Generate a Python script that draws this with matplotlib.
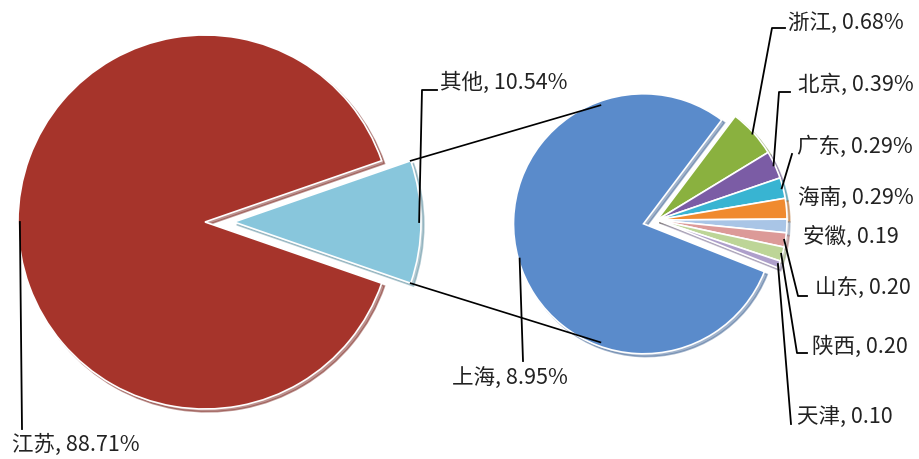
import numpy as np
import matplotlib.pyplot as plt

plt.rcParams['font.family'] = ['Noto Sans CJK SC', 'DejaVu Sans']

W, H = 919, 460

# 主饼
main_labels = ['其他', '江苏']
main_values = [10.54, 88.71]
main_texts = ['10.54%', '88.71%']
main_colors = ['#88C6DC', '#A6342B']

# 子饼（其他 的明细）
sub_labels = ['浙江', '北京', '广东', '海南', '安徽', '山东', '陕西', '天津', '上海']
sub_values = [0.68, 0.39, 0.29, 0.29, 0.19, 0.20, 0.20, 0.10, 8.95]
sub_texts = ['0.68%', '0.39%', '0.29%', '0.29%', '0.19', '0.20', '0.20', '0.10', '8.95%']
sub_colors = ['#8AB13F', '#7B5CA5', '#38B4D2', '#F08A2E', '#A9C5E6',
              '#DC9A98', '#BDD597', '#AE9FCB', '#5A8BCB']


def py(y):
    return H - y


fig = plt.figure(figsize=(W / 100, H / 100), dpi=100)
ax = fig.add_axes([0, 0, 1, 1])

wp = dict(edgecolor='white', linewidth=1.2)
shd = {'ox': 2, 'oy': -2, 'shade': 0.25}
frac0 = main_values[0] / sum(main_values)
# explode 在数据坐标里是像素距离
w_main, _ = ax.pie(main_values, colors=main_colors, startangle=-frac0 * 180,
                   explode=[29, 0], center=(205, py(223)), radius=187,
                   wedgeprops=wp, shadow=shd)

w_sub, _ = ax.pie(sub_values, colors=sub_colors, startangle=53, counterclock=False,
                  explode=[0] * 8 + [14], center=(657, py(221)), radius=130,
                  wedgeprops=wp, shadow=shd)

ax.set_xlim(0, W)
ax.set_ylim(0, H)
ax.axis('off')


def pt(w, ang, f=1.0):
    cx, cy = w.center
    a = np.deg2rad(ang)
    return cx + f * w.r * np.cos(a), cy + f * w.r * np.sin(a)


def mid(w):
    return (w.theta1 + w.theta2) / 2


# 连接线
other = w_main[0]
sh = w_sub[-1]
for a_o, a_s in [(other.theta2, 110), (other.theta1, -110)]:
    x0, y0 = pt(other, a_o)
    x1, y1 = pt(sh, a_s, 0.97)
    ax.plot([x0, x1], [y0, y1], color='black', lw=1.2)

# 标签布局: (折点x, 折点y, 水平端x, 文字x, 文字y, 对齐)
main_lay = [(422, 91, 437, 440, 83, 'left'),
            (22, 430, None, 12, 445, 'left')]
sub_lay = [(772, 29, 785, 788, 23, 'left'),
           (779, 93, 790, 798, 85, 'left'),
           (792, 155, None, 797, 147, 'left'),
           (None, None, None, 798, 198, 'left'),
           (None, None, None, 803, 237, 'left'),
           (798, 297, 807, 815, 288, 'left'),
           (797, 354, 807, 812, 347, 'left'),
           (791, 425, None, 797, 417, 'left'),
           (523, 362, None, 510, 378, 'center')]


def draw_labels(wedges, labels, texts, lay):
    for w, lab, t, (ex, ey, hx, tx, ty, ha) in zip(wedges, labels, texts, lay):
        if ex is not None:
            x0, y0 = pt(w, mid(w), 0.99)
            xs = [x0, ex]
            ys = [y0, py(ey)]
            if hx is not None:
                xs.append(hx)
                ys.append(py(ey))
            ax.plot(xs, ys, color='black', lw=1.3)
        ax.text(tx, py(ty), lab + ', ' + t, ha=ha, va='center',
                fontsize=15.5, color='#222222')


draw_labels(w_main, main_labels, main_texts, main_lay)
draw_labels(w_sub, sub_labels, sub_texts, sub_lay)

fig.savefig('out.png', dpi=100)
